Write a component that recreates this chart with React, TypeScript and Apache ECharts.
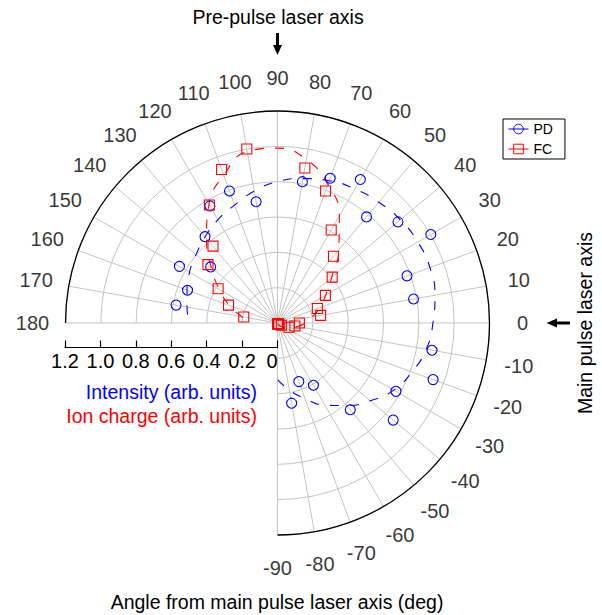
import React, { useEffect, useRef } from 'react';
import * as echarts from 'echarts';

// ---- data ----
const angleTicks: number[] = [-90, -80, -70, -60, -50, -40, -30, -20, -10, 0, 10, 20, 30, 40, 50, 60, 70, 80, 90, 100, 110, 120, 130, 140, 150, 160, 170, 180];

const pdAngles: number[] = [-80, -70, -60, -50, -40, -30, -20, -10, 10, 20, 30, 40, 50, 60, 70, 80, 100, 110, 120, 130, 140, 150, 160, 170];
const pdValues: number[] = [0.461, 0.353, 0.407, 0.641, 0.855, 0.774, 0.937, 0.888, 0.782, 0.78, 1.002, 0.89, 0.784, 0.938, 0.872, 0.812, 0.697, 0.795, 0.765, 0.638, 0.494, 0.641, 0.542, 0.583];

const fcAngles: number[] = [-90, -80, -70, -60, -50, -40, -30, -20, -10, 0, 10, 20, 30, 40, 50, 60, 70, 80, 100, 110, 120, 130, 140, 150, 160, 170];
const fcValues: number[] = [0.005, 0.005, 0.005, 0.005, 0.005, 0.01, 0.025, 0.07, 0.1, 0.124, 0.248, 0.24, 0.313, 0.404, 0.493, 0.608, 0.795, 0.891, 1.0, 0.925, 0.771, 0.568, 0.514, 0.388, 0.295, 0.194];

const fitAngles: number[] = [-90, -80, -70, -60, -50, -40, -30, -20, -10, 0, 10, 20, 30, 40, 50, 60, 70, 80, 90, 100, 110, 120, 130, 140, 150, 160, 170, 180];
const pdFit: number[] = [0.32, 0.385, 0.455, 0.537, 0.61, 0.685, 0.76, 0.81, 0.855, 0.88, 0.905, 0.918, 0.917, 0.908, 0.892, 0.876, 0.857, 0.83, 0.8, 0.758, 0.71, 0.675, 0.637, 0.602, 0.575, 0.545, 0.52, 0.5];
const fcFit: number[] = [0, 0, 0.005, 0.01, 0.02, 0.035, 0.055, 0.08, 0.115, 0.155, 0.2, 0.255, 0.315, 0.4, 0.54, 0.7, 0.835, 0.94, 0.99, 0.985, 0.89, 0.775, 0.625, 0.49, 0.38, 0.29, 0.205, 0.15];

const radiusMin = 0;
const radiusMax = 1.2;
const radiusStep = 0.2;

// ---- style ----
const FONT = '"Liberation Sans", Arial, Helvetica, sans-serif';
const BLUE = '#0000ff';
const RED = '#ff0000';
const GRID = '#c4c4c4';
const LABEL_R = 1.387; // radius (in axis units) at which angle tick labels are centred

export default function App() {
  const ref = useRef<HTMLDivElement>(null);

  useEffect(() => {
    if (!ref.current) return;
    const chart = echarts.init(ref.current, undefined, { renderer: 'svg' });

    const option: any = {
      animation: false,
      textStyle: { fontFamily: FONT },
      polar: { center: [277.5, 323], radius: 212 },
      angleAxis: {
        type: 'value',
        min: -90,
        max: 180,
        interval: 10,
        startAngle: -90,
        endAngle: 180,
        clockwise: false,
        axisLine: { show: true, lineStyle: { color: '#000', width: 1.3 } },
        axisTick: { show: false },
        axisLabel: { show: false },
        splitLine: { show: true, lineStyle: { color: GRID, width: 1 } },
      },
      radiusAxis: {
        type: 'value',
        min: radiusMin,
        max: radiusMax,
        interval: radiusStep,
        axisLine: { show: false },
        axisTick: { show: false },
        axisLabel: { show: false },
        splitLine: { show: true, lineStyle: { color: GRID, width: 1 } },
      },
      grid: { left: 65, width: 212.5, top: 337, height: 10.5 },
      xAxis: {
        type: 'value',
        min: radiusMin,
        max: radiusMax,
        interval: radiusStep,
        inverse: true,
        position: 'bottom',
        axisLine: { show: true, lineStyle: { color: '#000', width: 1.2 } },
        axisTick: { show: true, inside: true, length: 7, lineStyle: { color: '#000', width: 1.2 } },
        axisLabel: {
          margin: 3,
          fontSize: 20,
          color: '#000',
          fontFamily: FONT,
          alignMinLabel: 'right',
          formatter: (v: number) => (v === 0 ? '0' : v.toFixed(1)),
        },
        splitLine: { show: false },
      },
      yAxis: { type: 'value', show: false },
      legend: {
        orient: 'vertical',
        left: 503,
        top: 119,
        padding: [3, 12, 3, 5],
        itemGap: 6,
        itemWidth: 20,
        itemHeight: 12,
        borderColor: '#000',
        borderWidth: 1,
        backgroundColor: '#fff',
        selectedMode: false,
        textStyle: { fontSize: 14, color: '#000', fontFamily: FONT },
        data: [
          { name: 'PD', lineStyle: { width: 1 }, itemStyle: { borderWidth: 1 } },
          { name: 'FC', lineStyle: { width: 1 }, itemStyle: { borderWidth: 1 } },
        ],
      },
      series: [
        {
          name: 'PD fit',
          type: 'line',
          coordinateSystem: 'polar',
          smooth: true,
          symbol: 'none',
          silent: true,
          data: fitAngles.map((a, i) => [pdFit[i], a]),
          lineStyle: { color: BLUE, width: 1.1, type: [9, 11] },
          z: 2,
        },
        {
          name: 'FC fit',
          type: 'line',
          coordinateSystem: 'polar',
          smooth: true,
          symbol: 'none',
          silent: true,
          data: fitAngles.map((a, i) => [fcFit[i], a]),
          lineStyle: { color: RED, width: 1.1, type: [9, 11] },
          z: 2,
        },
        {
          name: 'PD',
          type: 'line',
          coordinateSystem: 'polar',
          symbol: 'circle',
          symbolSize: 10,
          showSymbol: true,
          silent: true,
          data: pdAngles.map((a, i) => [pdValues[i], a]),
          lineStyle: { width: 0, color: BLUE },
          itemStyle: { color: 'rgba(0,0,0,0)', borderColor: BLUE, borderWidth: 1.1 },
          z: 3,
        },
        {
          name: 'FC',
          type: 'line',
          coordinateSystem: 'polar',
          symbol: 'rect',
          symbolSize: 10,
          showSymbol: true,
          silent: true,
          data: fcAngles.map((a, i) => [fcValues[i], a]),
          lineStyle: { width: 0, color: RED },
          itemStyle: { color: 'rgba(0,0,0,0)', borderColor: RED, borderWidth: 1.1 },
          z: 3,
        },
        {
          name: 'angle labels',
          type: 'scatter',
          coordinateSystem: 'polar',
          clip: false,
          silent: true,
          symbol: 'circle',
          symbolSize: 1,
          itemStyle: { color: 'rgba(0,0,0,0)' },
          data: angleTicks.map((a) => [LABEL_R, a]),
          label: {
            show: true,
            position: 'inside',
            color: '#000',
            fontSize: 20,
            fontFamily: FONT,
            formatter: (p: any) => String(p.value[1]),
          },
          z: 4,
        },
      ],
      graphic: [
        {
          type: 'text',
          x: 278,
          y: 17,
          style: { text: 'Pre-pulse laser axis', align: 'center', verticalAlign: 'middle', fontSize: 19.5, fontFamily: FONT, fill: '#000' },
        },
        { type: 'line', shape: { x1: 277.5, y1: 33, x2: 277.5, y2: 46 }, style: { stroke: '#000', lineWidth: 3 } },
        { type: 'polygon', shape: { points: [[273, 45], [282, 45], [277.5, 55]] }, style: { fill: '#000' } },
        {
          type: 'text',
          x: 585,
          y: 323,
          rotation: Math.PI / 2,
          style: { text: 'Main pulse laser axis', align: 'center', verticalAlign: 'middle', fontSize: 19.5, fontFamily: FONT, fill: '#000' },
        },
        { type: 'line', shape: { x1: 556, y1: 323, x2: 570, y2: 323 }, style: { stroke: '#000', lineWidth: 3 } },
        { type: 'polygon', shape: { points: [[546.5, 323], [557, 318.5], [557, 327.5]] }, style: { fill: '#000' } },
        {
          type: 'text',
          x: 277,
          y: 602,
          style: { text: 'Angle from main pulse laser axis (deg)', align: 'center', verticalAlign: 'middle', fontSize: 19.5, fontFamily: FONT, fill: '#000' },
        },
        {
          type: 'text',
          x: 257,
          y: 391.5,
          style: { text: 'Intensity (arb. units)', align: 'right', verticalAlign: 'middle', fontSize: 19.5, fontFamily: FONT, fill: BLUE },
        },
        {
          type: 'text',
          x: 257,
          y: 416,
          style: { text: 'Ion charge (arb. units)', align: 'right', verticalAlign: 'middle', fontSize: 19.5, fontFamily: FONT, fill: RED },
        },
      ],
    };

    chart.setOption(option);
    return () => chart.dispose();
  }, []);

  return <div ref={ref} style={{ position: 'fixed', left: 0, top: 0, width: 602, height: 615, background: '#fff' }} />;
}
